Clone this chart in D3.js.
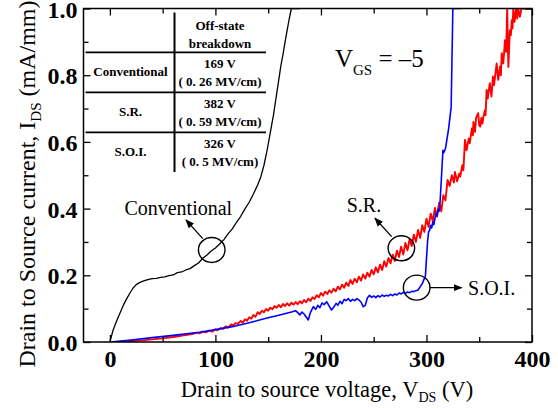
<!DOCTYPE html>
<html>
<head>
<meta charset="utf-8">
<script src="https://cdn.jsdelivr.net/npm/d3@7"></script>
<style>
  html, body { margin: 0; padding: 0; background: #fff; }
  svg { display: block; }
  text { font-family: "Liberation Serif", "Times New Roman", serif; }
</style>
</head>
<body>
<svg id="chart" width="558" height="408"></svg>
<script>
/* I-V off-state breakdown chart, VGS = -5 */

// ---- data (V_DS in volts, I_DS in mA/mm) ----
const conventional = [
  [0, 0], [1, 0.012], [3, 0.035], [6, 0.06], [10, 0.09], [13, 0.112], [16, 0.13], [19, 0.147],
  [22, 0.162], [25, 0.172], [28, 0.178], [32, 0.183], [36, 0.187], [40, 0.19], [44, 0.191],
  [48, 0.194], [52, 0.195], [56, 0.199], [60, 0.201], [64, 0.208], [68, 0.21], [72, 0.216],
  [76, 0.22], [80, 0.229], [84, 0.237], [88, 0.251], [92, 0.261], [96, 0.273], [100, 0.282],
  [104, 0.294], [108, 0.307], [112, 0.324], [116, 0.339], [120, 0.359], [124, 0.377],
  [128, 0.399], [132, 0.419], [136, 0.444], [140, 0.471], [143, 0.495], [146, 0.53],
  [149, 0.575], [152, 0.628], [155, 0.68], [157, 0.722], [160, 0.785], [162, 0.828],
  [164, 0.862], [166, 0.9], [168, 0.935], [170, 0.97], [172, 1.0], [180, 1.0]
];

const soi = [
  [0, 0], [20, 0.006], [40, 0.013], [60, 0.02], [85, 0.029], [100, 0.037], [116, 0.046],
  [130, 0.056], [148, 0.071], [160, 0.08], [173, 0.091], [176, 0.094], [178, 0.088],
  [180, 0.081], [182, 0.09], [184, 0.084], [186, 0.075], [188, 0.066], [190, 0.088],
  [192.8, 0.106], [195, 0.098], [197, 0.11], [199, 0.103], [201, 0.117], [203, 0.112],
  [205.4, 0.121], [207, 0.112], [210, 0.096], [212, 0.104], [214.4, 0.116], [216, 0.11],
  [218, 0.122], [220, 0.115], [222, 0.128], [223.8, 0.124], [226, 0.13], [228, 0.122],
  [230, 0.128], [232, 0.124], [234, 0.13], [236, 0.126], [238, 0.12], [240, 0.106],
  [242, 0.11], [244, 0.132], [246, 0.14], [248, 0.134], [250, 0.138], [252, 0.133],
  [254, 0.139], [256, 0.135], [258, 0.141], [260, 0.137], [262, 0.14], [264, 0.138],
  [266, 0.143], [268, 0.139], [270, 0.144], [272, 0.141], [274, 0.147], [276, 0.144],
  [278, 0.149], [280, 0.146], [282, 0.15], [284, 0.148], [286, 0.152], [288, 0.151],
  [290, 0.154], [292, 0.156], [296, 0.175], [299, 0.198], [300, 0.25], [301, 0.3],
  [302, 0.33], [303, 0.335], [304, 0.35], [305, 0.342], [306, 0.36], [307, 0.352],
  [308, 0.37], [309, 0.385], [310, 0.378], [311, 0.398], [312, 0.392], [313, 0.425],
  [315.6, 0.575], [316.5, 0.568], [318, 0.58], [321, 0.64], [323.4, 0.705], [325, 1.0],
  [333, 1.0]
];

const sr = [
  [0, 0], [10, 0.001], [20, 0.003], [30, 0.005], [40, 0.008], [50, 0.011], [60, 0.015],
  [70, 0.02], [78, 0.024], [82, 0.028], [85, 0.026], [88, 0.031], [91, 0.029], [94, 0.034],
  [97, 0.031], [100, 0.038], [102, 0.035], [105, 0.042], [107, 0.039], [110, 0.047],
  [112, 0.043], [115, 0.053], [117, 0.049], [119, 0.057], [121, 0.054], [124, 0.063],
  [126, 0.058], [128, 0.068], [130, 0.064], [132, 0.074], [134, 0.07], [136, 0.081],
  [138, 0.076], [140, 0.089], [142, 0.084], [144, 0.094], [146, 0.089], [148, 0.099],
  [150, 0.094], [152, 0.103], [154, 0.098], [156, 0.108], [158, 0.103], [160, 0.111],
  [162, 0.104], [164, 0.114], [166, 0.108], [168, 0.116], [170, 0.109], [172, 0.118],
  [174, 0.112], [176, 0.12], [178, 0.113], [180, 0.122], [182, 0.116], [184, 0.126],
  [186, 0.119], [188, 0.13], [190, 0.123], [192, 0.134], [194, 0.129], [196, 0.14],
  [198, 0.134], [200, 0.147], [202, 0.139], [204, 0.151], [206, 0.144], [208, 0.155],
  [210, 0.148], [212, 0.16], [214, 0.152], [216, 0.166], [218, 0.158], [220, 0.172],
  [222, 0.163], [224, 0.178], [226, 0.168], [228, 0.186], [230, 0.174], [232, 0.19],
  [234, 0.179], [236, 0.196], [238, 0.184], [240, 0.203], [242, 0.19], [244, 0.208],
  [246, 0.196], [248, 0.216], [250, 0.203], [252, 0.224], [254, 0.209], [256, 0.232],
  [258, 0.216], [260, 0.242], [262, 0.226], [264, 0.252], [266, 0.236], [268, 0.262],
  [270, 0.243], [272, 0.274], [274, 0.255], [276, 0.286], [278, 0.262], [280, 0.297],
  [282, 0.275], [284, 0.308], [286, 0.288], [288, 0.322], [290, 0.3], [292, 0.336],
  [294, 0.312], [296, 0.35], [298, 0.33], [300, 0.37], [302, 0.345], [304, 0.385],
  [306, 0.362], [308, 0.402], [310, 0.376], [312, 0.418], [314, 0.392], [316, 0.44],
  [318, 0.425], [320, 0.486], [322, 0.468], [324, 0.5], [326, 0.478], [327, 0.51],
  [329, 0.482], [331, 0.505], [332, 0.496], [334, 0.53], [335, 0.515], [336.5, 0.606],
  [338, 0.575], [340, 0.61], [341, 0.596], [343, 0.64], [344, 0.62], [344.5, 0.66],
  [346, 0.63], [347, 0.672], [349, 0.686], [350, 0.65], [351, 0.646], [352, 0.672],
  [353, 0.655], [354, 0.676], [355.5, 0.696], [356, 0.68], [357, 0.756], [358, 0.73],
  [360, 0.776], [361.6, 0.736], [363, 0.796], [364, 0.77], [366.5, 0.835], [368, 0.786],
  [369.7, 0.826], [370.5, 0.8], [371.3, 0.866], [372.8, 0.835], [374.4, 0.905],
  [375.5, 0.87], [376.5, 1.0], [377.6, 0.825], [379, 0.935], [380, 0.92], [380.8, 0.965],
  [381.5, 0.94], [382.3, 1.0], [383.5, 0.96], [385, 1.0], [386, 0.97], [387, 1.0],
  [388.5, 0.975], [390, 1.0], [400, 1.0]
];

const xMajor = [0, 100, 200, 300, 400];
const xMinor = [50, 150, 250, 350];
const yMajor = [0, 0.2, 0.4, 0.6, 0.8, 1.0];
const yMinor = [0.1, 0.3, 0.5, 0.7, 0.9];

const tableRows = ['Conventional', 'S.R.', 'S.O.I.'];
const tableHead = ['Off-state', 'breakdown'];
const tableVolts = ['169 V', '382 V', '326 V'];
const tableField = ['( 0. 26 MV/cm)', '( 0. 59 MV/cm)', '( 0. 5 MV/cm)'];

// ---- layout ----
const svg = d3.select('#chart');
const L = 83.5, R = 532, T = 8.5, B = 342;

const x = d3.scaleLinear().domain([-25, 400]).range([L, R]);
const y = d3.scaleLinear().domain([0, 1]).range([B, T]);

svg.append('clipPath').attr('id', 'plotClip')
  .append('rect').attr('x', L).attr('y', T).attr('width', R - L).attr('height', B - T);

// ---- curves ----
const line = d3.line().x(d => x(d[0])).y(d => y(d[1]));
const curves = svg.append('g').attr('clip-path', 'url(#plotClip)').attr('fill', 'none')
  .attr('stroke-linejoin', 'round');

curves.append('path').datum(conventional).attr('d', line)
  .attr('stroke', '#000').attr('stroke-width', 1.3);
curves.append('path').datum(sr).attr('d', line)
  .attr('stroke', '#ff0000').attr('stroke-width', 1.9);
curves.append('path').datum(soi).attr('d', line)
  .attr('stroke', '#0000ff').attr('stroke-width', 1.6);

// ---- axes (ticks point inward) ----
function styleAxis(g) {
  g.select('.domain').remove();
  g.selectAll('line').attr('stroke', '#000').attr('stroke-width', 1.3);
  g.selectAll('text').attr('font-family', '"Liberation Serif", serif')
    .attr('font-weight', 'bold').attr('font-size', 24).attr('fill', '#000');
}

svg.append('g').attr('transform', `translate(0,${B})`)
  .call(d3.axisBottom(x).tickValues(xMajor).tickSize(-7).tickPadding(8).tickFormat(d3.format('d')))
  .call(styleAxis);
svg.append('g').attr('transform', `translate(0,${B})`)
  .call(d3.axisBottom(x).tickValues(xMinor).tickSize(-5).tickFormat(''))
  .call(styleAxis);
svg.append('g').attr('transform', `translate(0,${T})`)
  .call(d3.axisTop(x).tickValues(xMajor).tickSize(-7).tickFormat(''))
  .call(styleAxis);
svg.append('g').attr('transform', `translate(0,${T})`)
  .call(d3.axisTop(x).tickValues(xMinor).tickSize(-5).tickFormat(''))
  .call(styleAxis);

svg.append('g').attr('transform', `translate(${L},0)`)
  .call(d3.axisLeft(y).tickValues(yMajor).tickSize(-7).tickPadding(6).tickFormat(d3.format('.1f')))
  .call(styleAxis)
  .selectAll('text').attr('dy', '0.36em');
svg.append('g').attr('transform', `translate(${L},0)`)
  .call(d3.axisLeft(y).tickValues(yMinor).tickSize(-5).tickFormat(''))
  .call(styleAxis);
svg.append('g').attr('transform', `translate(${R},0)`)
  .call(d3.axisRight(y).tickValues(yMajor).tickSize(-7).tickFormat(''))
  .call(styleAxis);
svg.append('g').attr('transform', `translate(${R},0)`)
  .call(d3.axisRight(y).tickValues(yMinor).tickSize(-5).tickFormat(''))
  .call(styleAxis);

svg.append('rect').attr('x', L).attr('y', T).attr('width', R - L).attr('height', B - T)
  .attr('fill', 'none').attr('stroke', '#000').attr('stroke-width', 1.5);

// ---- axis titles ----
const xt = svg.append('text').attr('x', 327).attr('y', 397)
  .attr('text-anchor', 'middle').attr('font-size', 22.5);
xt.append('tspan').text('Drain to source voltage, V');
xt.append('tspan').attr('font-size', 14).attr('dy', 5).text('DS');
xt.append('tspan').attr('dy', -5).text(' (V)');

const yt = svg.append('text').attr('transform', 'translate(35,184) rotate(-90)')
  .attr('text-anchor', 'middle').attr('font-size', 24);
yt.append('tspan').text('Drain to Source current, I');
yt.append('tspan').attr('font-size', 15).attr('dy', 6).text('DS');
yt.append('tspan').attr('dy', -6).text(' (mA/mm)');

// ---- breakdown table ----
const tb = svg.append('g').attr('font-weight', 'bold').attr('font-size', 13)
  .attr('text-anchor', 'middle');
const rowLines = [52.3, 92.3, 132.3];
rowLines.forEach(ry => tb.append('line').attr('x1', L + 2).attr('x2', 266)
  .attr('y1', ry).attr('y2', ry).attr('stroke', '#000').attr('stroke-width', 1.8));
tb.append('line').attr('x1', 174.5).attr('x2', 174.5).attr('y1', 12.5).attr('y2', 172)
  .attr('stroke', '#000').attr('stroke-width', 2);
tableHead.forEach((t, i) => tb.append('text').attr('x', 220).attr('y', 29.5 + i * 18.5).text(t));
tableRows.forEach((t, i) => {
  const top = rowLines[i];
  tb.append('text').attr('x', 130.5).attr('y', top + 24).text(t);
  tb.append('text').attr('x', 220).attr('y', top + 15.5).text(tableVolts[i]);
  tb.append('text').attr('x', 220).attr('y', top + 34).text(tableField[i]);
});

// ---- annotations ----
const vgs = svg.append('text').attr('x', x(213.3)).attr('y', y(0.825)).attr('font-size', 25);
vgs.append('tspan').text('V');
vgs.append('tspan').attr('font-size', 15).attr('dy', 8).text('GS');
vgs.append('tspan').attr('dy', -8).text(' = \u20135');

svg.append('defs').append('marker').attr('id', 'arrow')
  .attr('viewBox', '0 0 10 10').attr('refX', 9).attr('refY', 5)
  .attr('markerWidth', 9).attr('markerHeight', 9).attr('markerUnits', 'userSpaceOnUse')
  .attr('orient', 'auto')
  .append('path').attr('d', 'M0,1 L10,5 L0,9 Z').attr('fill', '#000');

const notes = [
  { label: 'Conventional', cx: 96.5, cy: 0.276, ax: 88, ay: 0.31, tx: 72.1, ty: 0.366, lx: 64.8, ly: 0.381, anchor: 'middle' },
  { label: 'S.R.', cx: 276.2, cy: 0.281, ax: 267, ay: 0.316, tx: 251.2, ty: 0.371, lx: 240.8, ly: 0.39, anchor: 'middle' },
  { label: 'S.O.I.', cx: 290.7, cy: 0.163, ax: 303.3, ay: 0.163, tx: 333.3, ty: 0.163, lx: 339.4, ly: 0.141, anchor: 'start' }
];
const an = svg.append('g');
notes.forEach(n => {
  an.append('ellipse').attr('cx', x(n.cx)).attr('cy', y(n.cy)).attr('rx', 13.3).attr('ry', 12.5)
    .attr('fill', 'none').attr('stroke', '#000').attr('stroke-width', 1.4);
  an.append('line').attr('x1', x(n.ax)).attr('y1', y(n.ay)).attr('x2', x(n.tx)).attr('y2', y(n.ty))
    .attr('stroke', '#000').attr('stroke-width', 1.3).attr('marker-end', 'url(#arrow)');
  an.append('text').attr('x', x(n.lx)).attr('y', y(n.ly)).attr('text-anchor', n.anchor)
    .attr('font-size', 20).text(n.label);
});
</script>
</body>
</html>
